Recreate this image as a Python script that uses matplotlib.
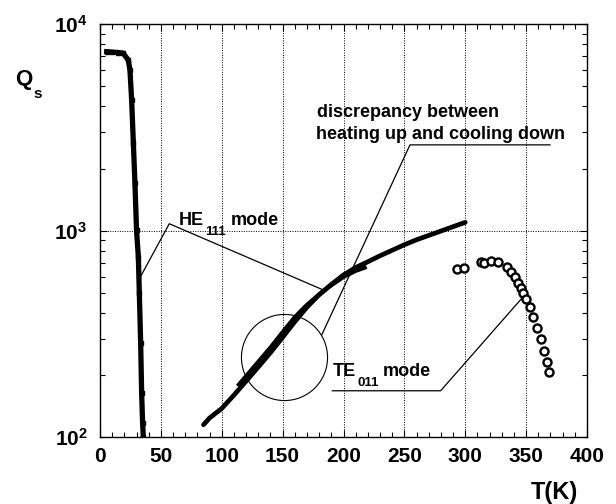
import matplotlib
matplotlib.use('Agg')
import matplotlib.pyplot as plt
from matplotlib.ticker import FixedLocator, FixedFormatter, MultipleLocator, LogLocator, NullFormatter

# ---------------- data ----------------
# HE111 mode, low temperature branch
low_T = [5.5, 10, 15, 19, 23.3, 24.6, 26, 27.4, 28.7, 30, 31.5, 32.3, 33.4, 34.2, 35, 35.6]
low_Q = [7370, 7330, 7300, 7250, 6700, 6000, 4300, 2660, 1700, 1010, 746, 500, 286, 164, 117, 100]

# HE111 mode, heating up
heat_T = [85, 90, 100, 110, 120, 130, 140, 150, 160, 170, 180, 190, 200, 210, 220,
          230, 240, 250, 260, 270, 280, 290, 300]
heat_Q = [115, 124, 138, 160, 187, 219, 257, 305, 363, 427, 490, 550, 611, 664, 708,
          757, 805, 856, 905, 950, 997, 1047, 1099]

# HE111 mode, cooling down
cool_T = [113, 120, 130, 140, 150, 160, 170, 180, 190, 200, 210, 219]
cool_Q = [177, 198, 232, 272, 323, 382, 438, 492, 545, 598, 640, 668]

# TE011 mode (open circles)
te_T = [293, 299.3, 313.3, 315, 321, 326.6, 334.5, 337.6, 340.9, 343, 345.6, 347.7,
        350.2, 353.2, 356, 359, 362.3, 364.7, 366.9, 368.8]
te_Q = [653, 662, 703, 702, 716, 703, 665, 634, 600, 561, 527, 498,
        468, 427, 383, 340, 299, 262, 232, 207]

x_ticks = [0, 50, 100, 150, 200, 250, 300, 350, 400]
y_ticks = [100, 1000, 10000]
y_tick_labels = [r'$\mathbf{10^{2}}$', r'$\mathbf{10^{3}}$', r'$\mathbf{10^{4}}$']

# ---------------- style ----------------
plt.rcParams['font.family'] = ['Liberation Sans', 'DejaVu Sans']
plt.rcParams['font.weight'] = 'bold'
plt.rcParams['mathtext.fontset'] = 'custom'
plt.rcParams['mathtext.bf'] = 'Liberation Sans:bold'
plt.rcParams['mathtext.rm'] = 'Liberation Sans:bold'
plt.rcParams['mathtext.default'] = 'bf'

W, H = 616, 504
fig = plt.figure(figsize=(W / 100, H / 100), dpi=100)
ax = fig.add_axes([100 / W, 1 - 437.3 / H, 487 / W, (437.3 - 24.3) / H])
ax.set_yscale('log')
ax.set_xlim(0, 400)
ax.set_ylim(100, 10000)

for s in ax.spines.values():
    s.set_linewidth(1.0)

ax.xaxis.set_major_locator(FixedLocator(x_ticks))
ax.xaxis.set_minor_locator(MultipleLocator(10))
ax.yaxis.set_major_locator(FixedLocator(y_ticks))
ax.yaxis.set_major_formatter(FixedFormatter(y_tick_labels))
ax.yaxis.set_minor_locator(LogLocator(base=10, subs=range(2, 10)))
ax.yaxis.set_minor_formatter(NullFormatter())
ax.grid(True, which='major', linestyle=(0, (1, 1.5)), color='black', linewidth=0.7)
ax.tick_params(which='both', direction='in', top=True, right=True, width=0.8)
ax.tick_params(which='major', length=5, labelsize=15)
ax.tick_params(which='minor', length=3.5)
ax.tick_params(axis='x', pad=7)
ax.tick_params(axis='y', pad=9)
for lab in ax.get_xticklabels():
    lab.set_fontweight('bold')

# data
ax.plot(low_T, low_Q, color='black', lw=3.8, marker='s', ms=3.5, zorder=3)
ax.plot(heat_T, heat_Q, color='black', lw=3.4, zorder=3, solid_capstyle='round')
ax.plot(cool_T, cool_Q, color='black', lw=3.0, zorder=3, solid_capstyle='butt')
ax.plot(te_T, te_Q, linestyle='none', marker='o', ms=5.8, mfc='white', mec='black',
        mew=1.7, zorder=3)

# annotations
lk = dict(color='black', lw=0.9, zorder=2)
ax.plot([31.8, 56.9, 183.4], [578, 1082, 517], **lk)
ax.plot([182.1, 254.6, 369.6], [313, 2607, 2607], **lk)
ax.plot([190.8, 279.8, 347.7], [168, 168, 480], **lk)
ax.plot([150.9], [245], marker='o', ms=62, mfc='none', mec='black', mew=0.8, zorder=2)


def ftxt(x, y, s, size, **kw):
    fig.text(x / W, 1 - y / H, s, fontsize=size, fontweight='bold', va='baseline', **kw)


ftxt(179, 225, 'HE', 13)
ftxt(205, 235, '111', 9.5)
ftxt(231, 225, 'mode', 13)

ftxt(333, 375.7, 'TE', 13)
ftxt(357, 385.5, '011', 9.5)
ftxt(383, 375.7, 'mode', 13)

ftxt(317, 117, 'discrepancy between', 13)
ftxt(565, 139, 'heating up and cooling down', 13, ha='right')

ftxt(15, 85, 'Q', 16)
ftxt(33, 98, 's', 11)
fig.text(554 / W, 1 - 493 / H, 'T(K)', fontsize=17, fontweight='bold', ha='center',
         va='center')

fig.savefig('out.png', dpi=100)
